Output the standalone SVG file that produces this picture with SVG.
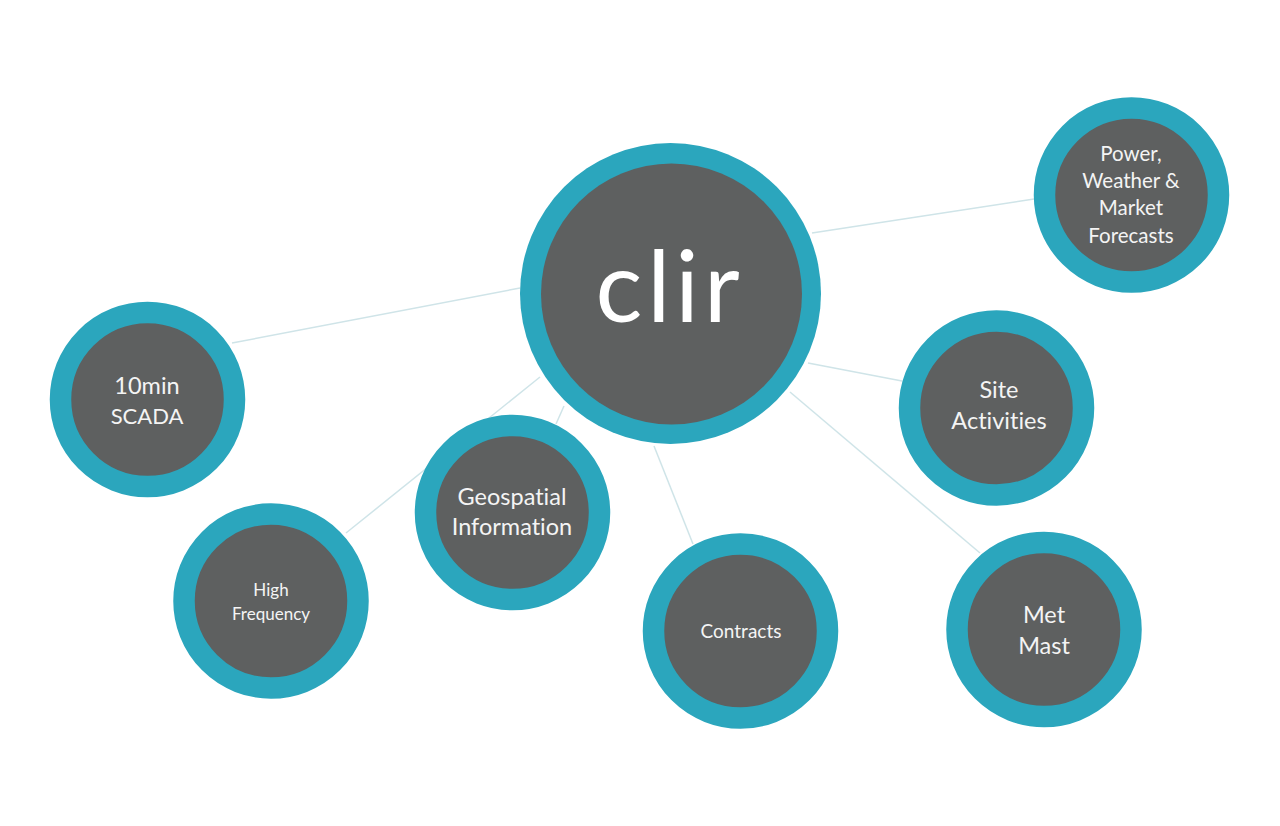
<svg xmlns="http://www.w3.org/2000/svg" width="1280" height="826" viewBox="0 0 1280 826">
<style>
.n{fill:#5e6060;stroke:#2ba6bd;stroke-width:21.500}
.l{stroke:#cfe4e8;stroke-width:1.500;fill:none}
text{font-family:Lato,"Open Sans",sans-serif;fill:#f4f4f4;text-anchor:middle;font-size:23.500px;font-variant-ligatures:none}
.s{font-size:17px}
.m{font-size:19px}
.p{font-size:20.500px}
.c{font-size:22px}
</style>
<rect width="1280" height="826" fill="#fff"/>
<g id="connectors">
<line class="l" x1="232" y1="343" x2="520" y2="288"/>
<line class="l" x1="812" y1="233" x2="1034" y2="199"/>
<line class="l" x1="808" y1="363" x2="902" y2="381"/>
<line class="l" x1="790" y1="392" x2="980" y2="553"/>
<line class="l" x1="654" y1="446" x2="693" y2="544"/>
<line class="l" x1="540" y1="377" x2="346" y2="533"/>
<line class="l" x1="564" y1="406" x2="556" y2="424"/>
</g>
<g id="clir"><circle cx="670.500" cy="293.500" r="150.500" fill="#2ba6bd"/><circle cx="671.500" cy="294" r="130.500" fill="#5e6060"/><text x="670" y="322" style="font-size:98px;letter-spacing:5px;fill:#fff">clir</text></g>
<g id="power"><circle class="n" cx="1131.500" cy="195" r="87"/><text class="p" x="1131" y="161">Power,</text><text class="p" x="1131" y="188">Weather &amp;</text><text class="p" x="1131" y="215">Market</text><text class="p" x="1131" y="243">Forecasts</text></g>
<g id="scada"><circle class="n" cx="147.500" cy="399.500" r="87"/><text x="147" y="394">10min</text><text class="c" x="147" y="424">SCADA</text></g>
<g id="site"><circle class="n" cx="996.500" cy="408" r="87"/><text x="999" y="398">Site</text><text x="999" y="429">Activities</text></g>
<g id="geo"><circle class="n" cx="512.500" cy="512.500" r="87"/><text x="512" y="505">Geospatial</text><text x="512" y="535">Information</text></g>
<g id="hf"><circle class="n" cx="271" cy="601" r="87"/><text class="s" x="271" y="596">High</text><text class="s" x="271" y="620">Frequency</text></g>
<g id="contracts"><circle class="n" cx="740.500" cy="631" r="87"/><text class="m" x="741" y="638">Contracts</text></g>
<g id="met"><circle class="n" cx="1044" cy="629.500" r="87"/><text x="1044" y="623">Met</text><text x="1044" y="654">Mast</text></g>
</svg>
